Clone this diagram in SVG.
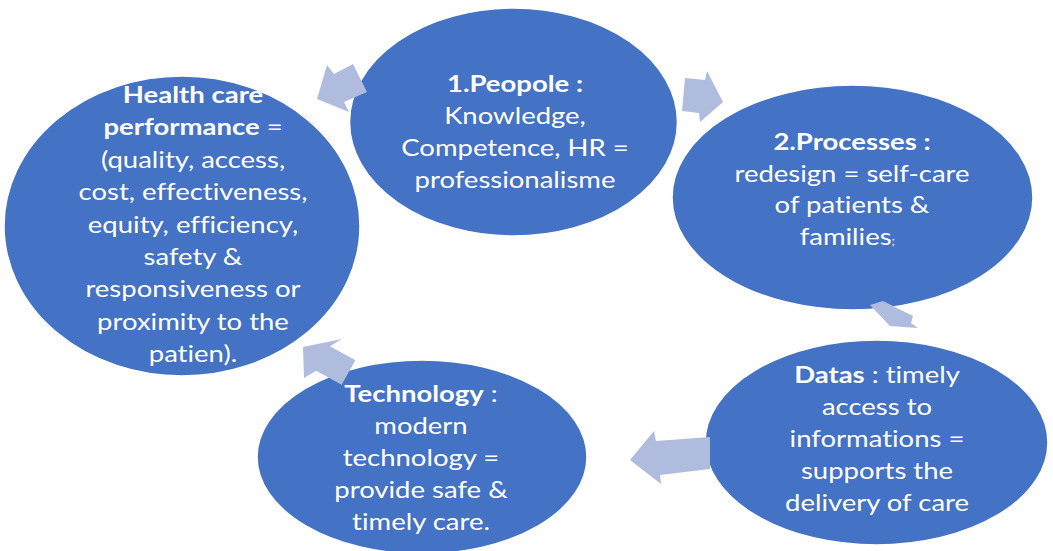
<svg xmlns="http://www.w3.org/2000/svg" width="1053" height="551" viewBox="0 0 1053 551">
  <style>
    .node { fill: #4472C4; stroke: #FFFFFF; stroke-width: 1.5; }
    .arrow { fill: #AFBCDE; }
    text { font-family: Lato, "Liberation Sans", sans-serif; font-size: 23.5px; fill: #FFFFFF; text-anchor: middle; font-variant-ligatures: none; }
    .b { font-weight: bold; }
  </style>
  <rect width="1053" height="551" fill="#FFFFFF"/>

  <!-- stacking: each arrow sits above the node it leaves and below the next node -->
  <g id="node-people">
    <ellipse class="node" cx="513.5" cy="122" rx="164" ry="114"/>
    <g transform="translate(515,0) scale(1.17,1)">
      <text x="0" y="92"><tspan class="b">1.Peopole :</tspan></text>
      <text x="0" y="124">Knowledge,</text>
      <text x="0" y="156">Competence, HR =</text>
      <text x="0" y="188">professionalisme</text>
    </g>
  </g>

  <g id="connectors-a">
    <polygon class="arrow" points="685,78 705,80 707,71 723,102 700,122 699,113 682,111"/>
  </g>

  <g id="node-processes">
    <ellipse class="node" cx="852.5" cy="197.5" rx="180.5" ry="112.5"/>
    <g transform="translate(852,0) scale(1.17,1)">
      <text x="0" y="150"><tspan class="b">2.Processes :</tspan></text>
      <text x="0" y="182">redesign = self-care</text>
      <text x="0" y="213">of patients &amp;</text>
      <text x="-4" y="245">families<tspan font-size="11px">;</tspan></text>
    </g>
  </g>

  <g id="connectors-b">
    <polygon class="arrow" points="870,305 883,301 913,316 911,323 918,328 890,326"/>
  </g>

  <g id="node-datas">
    <ellipse class="node" cx="876.5" cy="442.5" rx="171.5" ry="102.5"/>
    <g transform="translate(877,0) scale(1.17,1)">
      <text x="0" y="383"><tspan class="b">Datas</tspan> : timely</text>
      <text x="0" y="415">access to</text>
      <text x="0" y="447">informations =</text>
      <text x="0" y="479">supports the</text>
      <text x="0" y="511">delivery of care</text>
    </g>
  </g>

  <g id="connectors-c">
    <polygon class="arrow" points="630,460 654,431 656,441 710,437 710,469 660,475 661,484"/>
  </g>

  <g id="node-technology">
    <ellipse class="node" cx="422" cy="457" rx="165" ry="97"/>
    <g transform="translate(421,0) scale(1.17,1)">
      <text x="0" y="402"><tspan class="b">Technology</tspan> :</text>
      <text x="0" y="434">modern</text>
      <text x="0" y="466">technology =</text>
      <text x="0" y="498">provide safe &amp;</text>
      <text x="0" y="530">timely care.</text>
    </g>
  </g>

  <g id="connectors-d">
    <polygon class="arrow" points="303,347 342,339 329.9,346.2 355.4,360.2 341.6,384.8 316.1,370.8 304,378"/>
  </g>

  <g id="node-health">
    <ellipse class="node" cx="182" cy="226" rx="178" ry="150"/>
    <g transform="translate(193,0) scale(1.17,1)">
      <text x="0" y="103"><tspan class="b">Health care</tspan></text>
      <text x="0" y="135.5"><tspan class="b">performance</tspan> =</text>
      <text x="0" y="168">(quality, access,</text>
      <text x="0" y="200">cost, effectiveness,</text>
      <text x="0" y="233">equity, efficiency,</text>
      <text x="0" y="265">safety &amp;</text>
      <text x="0" y="297">responsiveness or</text>
      <text x="0" y="330">proximity to the</text>
      <text x="0" y="362">patien).</text>
    </g>
  </g>

  <g id="connectors-e">
    <polygon class="arrow" points="317,99 327,65 334,74 353,64 367,92 344,102 349,112"/>
  </g>
</svg>
